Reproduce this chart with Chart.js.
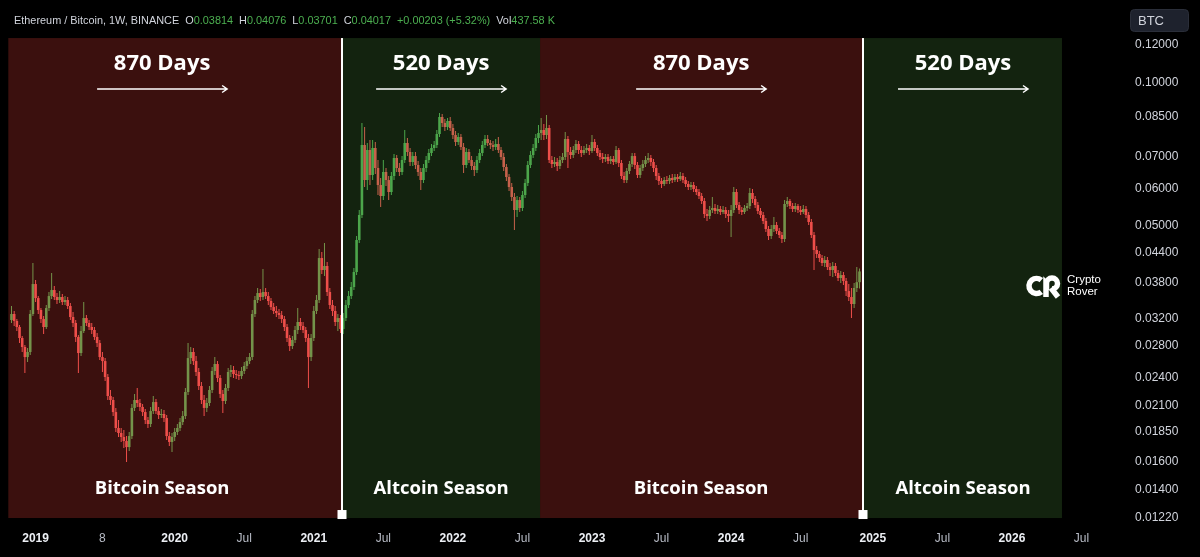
<!DOCTYPE html>
<html><head><meta charset="utf-8">
<script src="https://cdn.jsdelivr.net/npm/chart.js@4.4.1/dist/chart.umd.min.js"></script>
<style>html,body{margin:0;padding:0;background:#000;overflow:hidden}canvas{display:block}</style>
</head><body>
<canvas id="c" width="1200" height="557"></canvas>
<script>
// Weekly ETH/BTC candles, week 0 = 2018-11-05
const opens = [
.03177,.03270,.03162,.03071,.02912,.02788,.02656,.02722,.03270,.03780,.03532,.03334,.03192,.03071,.03366,.03567,.03672,.03550,.03499,.03550,
.03465,.03499,.03399,.03223,.03131,.02927,.02708,.03012,.03207,.03131,.03071,.03027,.02927,.02842,.02656,.02605,.02412,.02200,.02158,.02036,
.01885,.01840,.01805,.01770,.01719,.01813,.02077,.02158,.02127,.02087,.02036,.01959,.01922,.02046,.02137,.02046,.02007,.02017,.01978,.01813,
.01762,.01805,.01849,.01885,.01940,.01997,.02243,.02643,.02722,.02605,.02471,.02309,.02158,.02077,.02127,.02265,.02483,.02568,.02400,.02222,
.02148,.02287,.02471,.02495,.02447,.02435,.02423,.02483,.02544,.02605,.02656,.03270,.03499,.03619,.03550,.03637,.03567,.03482,.03382,.03318,
.03286,.03254,.03192,.03071,.02912,.02801,.02884,.03027,.03146,.03086,.03027,.02912,.02656,.02912,.03318,.03499,.04286,.04045,.04124,.03637,
.03415,.03318,.03146,.03207,.03042,.03207,.03415,.03567,.03726,.04006,.04676,.05277,.07401,.06249,.07224,.06402,.07295,.06622,.06100,.05784,
.06496,.06249,.05897,.06371,.06950,.06622,.06496,.06883,.07473,.07155,.06817,.07017,.06719,.06496,.06249,.06622,.06883,.07120,.07295,.07401,
.07805,.08474,.08232,.08075,.08312,.08036,.07767,.07509,.07693,.07330,.06719,.07155,.06883,.06687,.06559,.06883,.07120,.07401,.07619,.07473,
.07401,.07330,.07437,.07224,.06984,.06654,.06341,.06041,.05756,.05406,.05673,.05458,.05812,.06159,.06719,.07051,.07295,.07656,.07843,.07957,
.07767,.08036,.06883,.06751,.06817,.06687,.06883,.06984,.07619,.07155,.07051,.07224,.07437,.07224,.07120,.07224,.07295,.07189,.07509,.07295,
.07120,.06984,.06917,.06984,.06850,.06917,.06817,.07224,.06784,.06371,.06249,.06527,.06751,.07017,.06719,.06402,.06622,.06751,.06883,.06950,
.06817,.06622,.06371,.06219,.06130,.06249,.06219,.06310,.06249,.06341,.06280,.06371,.06249,.06130,.06041,.06100,.05983,.05897,.05784,.05646,
.05302,.05252,.05406,.05458,.05380,.05432,.05354,.05406,.05302,.05252,.05406,.05897,.05538,.05406,.05354,.05458,.05511,.05869,.05701,.05538,
.05380,.05277,.05126,.04932,.04768,.04932,.05028,.04884,.04791,.04699,.05565,.05646,.05511,.05432,.05511,.05406,.05354,.05432,.05277,.05102,
.04791,.04456,.04371,.04287,.04184,.04245,.04104,.04045,.04124,.03987,.03892,.03948,.03836,.03654,.03550,.03432,.03708,.03814
];
const highs = [
.03399,.03318,.03192,.03101,.02941,.02815,.02774,.03334,.04184,.03854,.03567,.03366,.03238,.03415,.03637,.03987,.03744,.03619,.03654,.03602,
.03567,.03550,.03449,.03302,.03177,.02955,.03086,.03465,.03254,.03177,.03131,.03071,.02983,.02884,.02722,.02643,.02447,.02265,.02190,.02077,
.01959,.01885,.01867,.01813,.01849,.02117,.02222,.02287,.02169,.02117,.02067,.01988,.02087,.02200,.02169,.02087,.02067,.02056,.02007,.01849,
.01840,.01885,.01922,.01978,.02046,.02287,.02842,.02788,.02774,.02669,.02519,.02354,.02211,.02179,.02309,.02531,.02656,.02605,.02435,.02265,
.02331,.02519,.02556,.02544,.02495,.02483,.02531,.02593,.02656,.02708,.03334,.03567,.03708,.03690,.04065,.03708,.03637,.03532,.03449,.03399,
.03350,.03318,.03238,.03116,.02955,.02941,.03086,.03366,.03207,.03146,.03071,.02969,.02969,.03399,.03584,.04478,.04413,.04609,.04204,.03708,
.03499,.03399,.03270,.03254,.03286,.03499,.03654,.03817,.04084,.04768,.05406,.08232,.08075,.07473,.07582,.07582,.07509,.06883,.06310,.06883,
.06622,.06371,.06496,.07086,.07051,.06784,.07017,.07957,.07656,.07295,.07155,.07155,.06850,.06622,.06751,.07017,.07260,.07437,.07545,.07957,
.08639,.08597,.08393,.08433,.08474,.08192,.07919,.07843,.07805,.07473,.07295,.07260,.07017,.06817,.07017,.07260,.07545,.07767,.07767,.07582,
.07545,.07619,.07693,.07330,.07120,.06751,.06433,.06159,.05869,.05784,.05756,.05925,.06280,.06850,.07189,.07437,.07805,.08153,.08433,.08192,
.08556,.08153,.07017,.06984,.06950,.07017,.07120,.07881,.07730,.07330,.07365,.07582,.07545,.07365,.07365,.07437,.07401,.07767,.07619,.07401,
.07224,.07120,.07086,.07086,.07017,.07017,.07365,.07295,.06883,.06496,.06622,.06850,.07120,.07120,.06817,.06719,.06883,.07017,.07120,.07051,
.06917,.06719,.06464,.06310,.06341,.06371,.06402,.06433,.06433,.06433,.06496,.06464,.06341,.06219,.06189,.06189,.06071,.05983,.05869,.05728,
.05432,.05511,.05756,.05565,.05538,.05511,.05511,.05485,.05406,.05538,.06041,.05983,.05619,.05485,.05538,.05592,.06012,.05983,.05784,.05619,
.05458,.05354,.05201,.05004,.05028,.05226,.05102,.04956,.04861,.05673,.05756,.05701,.05592,.05592,.05565,.05511,.05538,.05511,.05354,.05176,
.04861,.04542,.04434,.04349,.04329,.04308,.04184,.04204,.04184,.04045,.04026,.04006,.03892,.03780,.03708,.03799,.04104,.04076
];
const lows = [
.03131,.03086,.03012,.02842,.02722,.02459,.02593,.02682,.03238,.03465,.03270,.03131,.02969,.03042,.03318,.03515,.03499,.03432,.03449,.03415,
.03415,.03350,.03177,.03071,.02856,.02459,.02669,.02983,.03086,.03027,.02969,.02884,.02788,.02618,.02471,.02366,.02158,.02107,.01997,.01849,
.01805,.01762,.01711,.01599,.01687,.01787,.02046,.02087,.02046,.01997,.01922,.01885,.01895,.02017,.02017,.01969,.01978,.01940,.01779,.01728,
.01679,.01770,.01822,.01858,.01913,.01969,.02211,.02568,.02556,.02423,.02265,.02117,.01997,.02036,.02097,.02232,.02435,.02354,.02179,.02026,
.02117,.02254,.02412,.02400,.02388,.02377,.02388,.02447,.02507,.02568,.02618,.03223,.03449,.03482,.03499,.03515,.03415,.03334,.03270,.03223,
.03192,.03131,.03012,.02856,.02735,.02761,.02842,.02969,.03027,.02983,.02856,.02287,.02605,.02870,.03270,.03449,.03968,.03929,.03567,.03350,
.03238,.03086,.03012,.02983,.02969,.03162,.03366,.03515,.03672,.03948,.04609,.05201,.06041,.05954,.06100,.06249,.06433,.05812,.05485,.05673,
.06071,.05673,.05812,.06249,.06496,.06371,.06402,.06784,.07017,.06687,.06687,.06590,.06371,.05954,.06159,.06496,.06784,.07017,.07189,.07295,
.07693,.08075,.07919,.07957,.07919,.07619,.07365,.07401,.07224,.06464,.06622,.06784,.06559,.06371,.06464,.06784,.07017,.07295,.07365,.07260,
.07189,.07224,.07120,.06883,.06527,.06219,.05925,.05646,.04908,.05226,.05354,.05380,.05728,.06071,.06622,.06950,.07189,.07473,.07582,.07582,
.07619,.06784,.06622,.06654,.06527,.06590,.06784,.06883,.06622,.06917,.06950,.07120,.07086,.06984,.07051,.07120,.07051,.07120,.07189,.07017,
.06883,.06784,.06817,.06751,.06751,.06719,.06751,.06654,.06280,.06159,.06159,.06433,.06654,.06590,.06310,.06310,.06527,.06654,.06784,.06687,
.06496,.06249,.06100,.06012,.06071,.06130,.06130,.06159,.06189,.06189,.06219,.06159,.06041,.05954,.05954,.05897,.05812,.05701,.05565,.05201,
.05126,.05176,.05328,.05302,.05302,.05277,.05302,.05201,.05102,.04745,.05328,.05458,.05302,.05277,.05302,.05380,.05432,.05592,.05458,.05302,
.05201,.05053,.04861,.04676,.04699,.04861,.04814,.04722,.04609,.04631,.05485,.05432,.05354,.05354,.05328,.05277,.05302,.05201,.05028,.04722,
.04045,.04287,.04204,.04124,.04104,.04045,.03929,.03910,.03929,.03836,.03799,.03762,.03567,.03482,.03207,.03366,.03637,.03701
];
const closes = [
.03270,.03162,.03071,.02912,.02788,.02656,.02722,.03270,.03780,.03532,.03334,.03192,.03071,.03366,.03567,.03672,.03550,.03499,.03550,.03465,
.03499,.03399,.03223,.03131,.02927,.02708,.03012,.03207,.03131,.03071,.03027,.02927,.02842,.02656,.02605,.02412,.02200,.02158,.02036,.01885,
.01840,.01805,.01770,.01719,.01813,.02077,.02158,.02127,.02087,.02036,.01959,.01922,.02046,.02137,.02046,.02007,.02017,.01978,.01813,.01762,
.01805,.01849,.01885,.01940,.01997,.02243,.02643,.02722,.02605,.02471,.02309,.02158,.02077,.02127,.02265,.02483,.02568,.02400,.02222,.02148,
.02287,.02471,.02495,.02447,.02435,.02423,.02483,.02544,.02605,.02656,.03270,.03499,.03619,.03550,.03637,.03567,.03482,.03382,.03318,.03286,
.03254,.03192,.03071,.02912,.02801,.02884,.03027,.03146,.03086,.03027,.02912,.02656,.02912,.03318,.03499,.04286,.04045,.04124,.03637,.03415,
.03318,.03146,.03207,.03042,.03207,.03415,.03567,.03726,.04006,.04676,.05277,.07401,.06249,.07224,.06402,.07295,.06622,.06100,.05784,.06496,
.06249,.05897,.06371,.06950,.06622,.06496,.06883,.07473,.07155,.06817,.07017,.06719,.06496,.06249,.06622,.06883,.07120,.07295,.07401,.07805,
.08474,.08232,.08075,.08312,.08036,.07767,.07509,.07693,.07330,.06719,.07155,.06883,.06687,.06559,.06883,.07120,.07401,.07619,.07473,.07401,
.07330,.07437,.07224,.06984,.06654,.06341,.06041,.05756,.05406,.05673,.05458,.05812,.06159,.06719,.07051,.07295,.07656,.07843,.07957,.07767,
.08036,.06883,.06751,.06817,.06687,.06883,.06984,.07619,.07155,.07051,.07224,.07437,.07224,.07120,.07224,.07295,.07189,.07509,.07295,.07120,
.06984,.06917,.06984,.06850,.06917,.06817,.07224,.06784,.06371,.06249,.06527,.06751,.07017,.06719,.06402,.06622,.06751,.06883,.06950,.06817,
.06622,.06371,.06219,.06130,.06249,.06219,.06310,.06249,.06341,.06280,.06371,.06249,.06130,.06041,.06100,.05983,.05897,.05784,.05646,.05302,
.05252,.05406,.05458,.05380,.05432,.05354,.05406,.05302,.05252,.05406,.05897,.05538,.05406,.05354,.05458,.05511,.05869,.05701,.05538,.05380,
.05277,.05126,.04932,.04768,.04932,.05028,.04884,.04791,.04699,.05565,.05646,.05511,.05432,.05511,.05406,.05354,.05432,.05277,.05102,.04791,
.04456,.04371,.04287,.04184,.04245,.04104,.04045,.04124,.03987,.03892,.03948,.03836,.03654,.03550,.03432,.03708,.03814,.04017
];
const lastVolume = '437.58 K';

// axes
const xTickWeeks = [9, 34, 61, 87, 113, 139, 165, 191, 217, 243, 269, 295, 322, 348, 374, 400];
const xTickLabels = ['2019','8','2020','Jul','2021','Jul','2022','Jul','2023','Jul','2024','Jul','2025','Jul','2026','Jul'];
const yTicks = [0.12, 0.10, 0.085, 0.07, 0.06, 0.05, 0.044, 0.038, 0.032, 0.028, 0.024, 0.021, 0.0185, 0.016, 0.014, 0.0122];
const xRange = [-4.30, 413.64];
const yRange = [0.011968, 0.14916];

// seasons
const seasonStart = [-1.2, 123.4, 197.6, 318.3];
const seasonEnd = [123.4, 197.6, 318.3, 392.7];
const seasonKind = ['btc', 'alt', 'btc', 'alt'];
const seasonDays = ['870 Days', '520 Days', '870 Days', '520 Days'];
const seasonNames = ['Bitcoin Season', 'Altcoin Season', 'Bitcoin Season', 'Altcoin Season'];
const seasonLabelAt = [56.3, 160.6, 257.8, 355.7];
const seasonLines = [123.4, 318.3];
const boxPrice = [0.0122, 0.1241];

const UP = '#4caf50';
const DOWN = '#ef5350';
const candleColors = closes.map((c, i) => c >= opens[i] ? UP : DOWN);
const bodies = closes.map((c, i) => ({x: i, y: [opens[i], c]}));
const wicks = closes.map((c, i) => ({x: i, y: [lows[i], highs[i]]}));

Chart.defaults.font.family = "'Liberation Sans', Arial, sans-serif";

const seasonPlugin = {
  id: 'seasons',
  afterDatasetsDraw(chart) {
    const {ctx, chartArea: a, scales: {x, y}} = chart;
    ctx.save();
    ctx.beginPath(); ctx.rect(a.left, a.top, a.right - a.left, a.bottom - a.top); ctx.clip();
    const yT = y.getPixelForValue(boxPrice[1]), yB = y.getPixelForValue(boxPrice[0]);
    for (let i = 0; i < seasonStart.length; i++) {
      const x0 = x.getPixelForValue(seasonStart[i]), x1 = x.getPixelForValue(seasonEnd[i]);
      ctx.fillStyle = seasonKind[i] === 'btc' ? 'rgba(236,64,56,0.25)' : 'rgba(76,140,60,0.25)';
      ctx.fillRect(x0, yT, x1 - x0, yB - yT);
    }
    // vertical lines
    ctx.fillStyle = '#ffffff';
    seasonLines.forEach(w => {
      const px = Math.round(x.getPixelForValue(w));
      ctx.fillRect(px - 1, yT, 2, yB - yT);
      ctx.fillRect(px - 4.5, yB - 8, 9, 9);
    });
    // labels
    ctx.textAlign = 'center';
    ctx.textBaseline = 'middle';
    for (let i = 0; i < seasonDays.length; i++) {
      const cx = x.getPixelForValue(seasonLabelAt[i]);
      ctx.fillStyle = '#ffffff';
      ctx.font = "bold 22px 'Open Sans', sans-serif";
      ctx.fillText(seasonDays[i], cx, 64);
      ctx.font = "bold 18.5px 'Open Sans', sans-serif";
      ctx.fillText(seasonNames[i], cx, 489);
      // arrow
      ctx.strokeStyle = '#ffffff';
      ctx.lineWidth = 1.5;
      ctx.beginPath();
      ctx.moveTo(cx - 65, 89); ctx.lineTo(cx + 65, 89);
      ctx.moveTo(cx + 60, 85.5); ctx.lineTo(cx + 65, 89); ctx.lineTo(cx + 60, 92.5);
      ctx.stroke();
    }
    ctx.restore();
  },
  afterDraw(chart) {
    const {ctx} = chart;
    const n = closes.length - 1;
    const chg = closes[n] - closes[n - 1];
    const pct = chg / closes[n - 1] * 100;
    const txt = '#d1d4dc', grn = '#4caf50';
    const parts = [
      ['Ethereum / Bitcoin, 1W, BINANCE', txt, 6], ['O', txt, 0], [opens[n].toFixed(5), grn, 6],
      ['H', txt, 0], [highs[n].toFixed(5), grn, 6], ['L', txt, 0], [lows[n].toFixed(5), grn, 6],
      ['C', txt, 0], [closes[n].toFixed(5), grn, 6],
      [(chg >= 0 ? '+' : '') + chg.toFixed(5) + ' (' + (pct >= 0 ? '+' : '') + pct.toFixed(2) + '%)', grn, 6],
      ['Vol', txt, 0], [lastVolume, grn, 0]
    ];
    ctx.save();
    ctx.font = "10.9px 'Liberation Sans', Arial, sans-serif";
    ctx.textBaseline = 'middle';
    ctx.textAlign = 'left';
    let px = 14;
    parts.forEach(([t, c, gap]) => { ctx.fillStyle = c; ctx.fillText(t, px, 21); px += ctx.measureText(t).width + gap; });
    // BTC box
    ctx.fillStyle = '#1e222d';
    ctx.strokeStyle = '#2a2e39';
    ctx.lineWidth = 1;
    ctx.beginPath(); ctx.roundRect(1130.5, 9.5, 58, 22, 4); ctx.fill(); ctx.stroke();
    ctx.fillStyle = '#d1d4dc';
    ctx.font = "13px 'Liberation Sans', Arial, sans-serif";
    ctx.fillText('BTC', 1138, 21);
    // logo
    ctx.strokeStyle = '#ffffff'; ctx.fillStyle = '#ffffff';
    ctx.lineWidth = 5.5; ctx.lineCap = 'butt';
    ctx.beginPath(); ctx.arc(1036.5, 286, 7.5, 0.28 * Math.PI, 1.72 * Math.PI, false); ctx.stroke();
    ctx.beginPath();
    ctx.moveTo(1046, 297); ctx.lineTo(1046, 283);
    ctx.arc(1052, 283.5, 5.5, Math.PI, 0.5 * Math.PI, false);
    ctx.stroke();
    ctx.beginPath(); ctx.moveTo(1051, 288); ctx.lineTo(1058, 297); ctx.stroke();
    ctx.font = "11.5px 'Liberation Sans', Arial, sans-serif";
    ctx.fillText('Crypto', 1067, 280);
    ctx.fillText('Rover', 1067, 292);
    ctx.restore();
  }
};

new Chart(document.getElementById('c'), {
  type: 'bar',
  data: {
    datasets: [
      {data: wicks, backgroundColor: candleColors, maxBarThickness: 1, grouped: false, inflateAmount: 0, borderWidth: 0, order: 2},
      {data: bodies, backgroundColor: candleColors, maxBarThickness: 2.6, barPercentage: 1, categoryPercentage: 1, grouped: false, inflateAmount: 0, borderWidth: 0, minBarLength: 1, order: 1}
    ]
  },
  options: {
    responsive: false, animation: false, events: [],
    layout: {padding: 0},
    plugins: {legend: {display: false}, tooltip: {enabled: false}},
    scales: {
      x: {
        type: 'linear', min: xRange[0], max: xRange[1], bounds: 'data', offset: false,
        grid: {display: false, drawTicks: false, offset: false}, border: {display: false},
        afterBuildTicks: s => { s.ticks = xTickWeeks.map(v => ({value: v})); },
        afterFit: s => { s.height = 35; s.paddingLeft = 0; s.paddingRight = 0; },
        ticks: {
          autoSkip: false, maxRotation: 0, minRotation: 0, padding: 9,
          callback: (v, i) => xTickLabels[i],
          color: c => xTickLabels[c.index] && xTickLabels[c.index].length === 4 ? '#eceff4' : '#b8bcc6',
          font: c => ({size: 12, weight: xTickLabels[c.index] && xTickLabels[c.index].length === 4 ? 'bold' : 'normal'})
        }
      },
      y: {
        type: 'logarithmic', position: 'right', min: yRange[0], max: yRange[1], bounds: 'data',
        grid: {display: false, drawTicks: false}, border: {display: false},
        afterBuildTicks: s => { s.ticks = yTicks.map(v => ({value: v})); },
        afterFit: s => { s.width = 82; s.paddingTop = 0; s.paddingBottom = 0; },
        ticks: {padding: 17, color: '#d1d4dc', font: {size: 12}, callback: v => Number(v).toFixed(5)}
      }
    }
  },
  plugins: [seasonPlugin]
});
</script>
</body></html>
